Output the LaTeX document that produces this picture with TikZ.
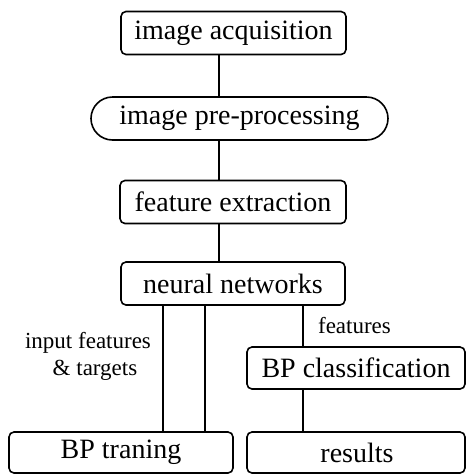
\documentclass[tikz,border=0pt]{standalone}
\usepackage{fontspec}
\setmainfont{Liberation Serif}
\begin{document}
\begin{tikzpicture}[x=1pt,y=-1pt,
    box/.style={draw,ultra thick,rounded corners=5pt,minimum height=43pt,inner sep=0pt,font=\fontsize{28}{32}\selectfont},
    lbl/.style={font=\fontsize{23}{27}\selectfont,align=center,inner sep=0pt}]
  \useasboundingbox (0,0) rectangle (467,475);

    \node[box,minimum width=225pt] (acq) at (233.5,33) {image acquisition};
    \node[box,minimum width=297pt,rounded corners=21.5pt] (pre) at (239.5,118.5) {image pre-processing\hspace{26pt}};
    \node[box,minimum width=226pt] (feat) at (233,202) {feature extraction};
    \node[box,minimum width=224pt] (nn) at (233,283.5) {neural networks};
    \node[box,minimum width=218pt,minimum height=42pt] (cls) at (356,368) {BP classification};
    \node[box,minimum width=224pt,minimum height=41pt] (train) at (121,452.5) {BP traning\hspace{20pt}};
    \node[box,minimum width=218pt,minimum height=41pt] (res) at (356,452.5) {\hspace{2pt}results\hspace{30pt}};

    \coordinate (spine) at (219,0);
    \coordinate (la) at (163,0);\coordinate (lb) at (205,0);\coordinate (lc) at (303,0);

    \draw[ultra thick] (acq.south -| spine) -- (pre.north -| spine);
    \draw[ultra thick] (pre.south -| spine) -- (feat.north -| spine);
    \draw[ultra thick] (feat.south -| spine) -- (nn.north -| spine);
    \draw[ultra thick] (nn.south -| la) -- (train.north -| la);
    \draw[ultra thick] (nn.south -| lb) -- (train.north -| lb);
    \draw[ultra thick] (nn.south -| lc) -- (cls.north -| lc);
    \draw[ultra thick] (cls.south -| lc) -- (res.north -| lc);

    \node[lbl] (inp) at (88,356) {input features\\ \hspace{14pt}\& targets};
    \node[lbl] (ftr) at (354.5,326) {features};
\end{tikzpicture}
\end{document}
